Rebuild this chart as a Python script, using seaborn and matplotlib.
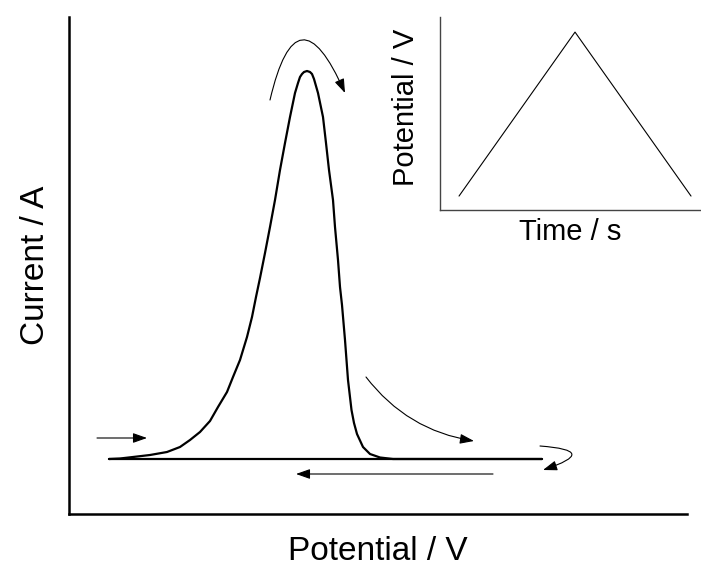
import numpy as np
import pandas as pd
import matplotlib
matplotlib.use("Agg")
import matplotlib.pyplot as plt
import seaborn as sns

# ---- data (arbitrary units) ----
# forward scan: potential vs current (stripping peak)
fwd_potential = [109, 120, 133, 150, 167, 180, 190, 200, 210, 218, 227, 233, 240, 247,
                 252, 256, 260, 265, 270, 275, 280, 285, 290, 295, 298, 300, 302, 304,
                 307, 310, 312, 314, 318, 323, 326, 329, 333, 335, 338, 340, 342, 345,
                 348, 351.5, 354, 357, 363, 370, 380, 393, 542]
fwd_current = [55, 55.5, 57, 59, 62, 67, 74, 82, 93, 107, 122, 137, 154, 177,
               197, 217, 236, 261, 287, 314, 344, 371, 397, 421, 431, 437, 440, 442,
               443, 442, 440, 435, 421, 397, 371, 344, 314, 287, 254, 227, 209, 174,
               134, 104, 91, 80, 67, 60, 56.5, 55, 55]
# reverse scan
rev_potential = [542, 109]
rev_current = [55, 55]

# inset: triangular waveform
inset_time = [0, 1, 2]
inset_potential = [0, 1, 0]

# annotation arrows: (start_x, start_y, end_x, end_y, curvature)
arrow_start_x = [97, 493, 270, 366, 540]
arrow_start_y = [76, 40, 414, 137, 68]
arrow_end_x = [147, 296, 345, 474, 543]
arrow_end_y = [76, 40, 421, 73, 44]
arrow_rad = [0.0, 0.0, -1.5, 0.2, -2.5]

sns.set_theme(style="white")
plt.rcParams['font.family'] = ['Liberation Sans', 'DejaVu Sans']

W, H = 701, 568
fig = plt.figure(figsize=(W / 100, H / 100), dpi=100)

ax = fig.add_axes([69 / W, (H - 514) / H, (687 - 69) / W, (514 - 17) / H])
df = pd.DataFrame({
    "Potential": fwd_potential + rev_potential,
    "Current": fwd_current + rev_current,
    "scan": ["fwd"] * len(fwd_potential) + ["rev"] * len(rev_potential),
})
for scan in ["fwd", "rev"]:
    sns.lineplot(data=df[df.scan == scan], x="Potential", y="Current", sort=False,
                 estimator=None, color="black", linewidth=1.6, ax=ax)
ax.set_xlim(69, 687)
ax.set_ylim(0, 497)
ax.set_xticks([])
ax.set_yticks([])
for s in ["top", "right"]:
    ax.spines[s].set_visible(False)
for s in ["left", "bottom"]:
    ax.spines[s].set_color("black")
    ax.spines[s].set_linewidth(1.8)
ax.set_xlabel("Potential / V", fontsize=24, labelpad=16, color="black")
ax.set_ylabel("Current / A", fontsize=24, labelpad=13, color="black")

for sx, sy, ex, ey, r in zip(arrow_start_x, arrow_start_y, arrow_end_x, arrow_end_y, arrow_rad):
    ax.annotate("", xy=(ex, ey), xytext=(sx, sy),
                arrowprops=dict(arrowstyle="-|>,head_length=0.85,head_width=0.3",
                                mutation_scale=10, color="black", lw=0.8,
                                shrinkA=0, shrinkB=0,
                                connectionstyle=f"arc3,rad={r}"))

# inset
iax = fig.add_axes([440 / W, (H - 210) / H, (W - 440) / W, (210 - 17) / H])
idf = pd.DataFrame({"Time": inset_time, "Potential": inset_potential})
sns.lineplot(data=idf, x="Time", y="Potential", sort=False, estimator=None,
             color="black", linewidth=0.8, ax=iax)
iax.set_xlim(-0.164, 2.086)
iax.set_ylim(-0.085, 1.092)
iax.set_xticks([])
iax.set_yticks([])
iax.patch.set_alpha(0)
for s in ["top", "right"]:
    iax.spines[s].set_visible(False)
for s in ["left", "bottom"]:
    iax.spines[s].set_color("#444444")
    iax.spines[s].set_linewidth(1.0)
iax.set_xlabel("Time / s", fontsize=21, labelpad=6, color="black")
iax.set_ylabel("Potential / V", fontsize=21, color="black")
iax.yaxis.set_label_coords(-0.075, 0.53)

fig.savefig("out.png", dpi=100)
